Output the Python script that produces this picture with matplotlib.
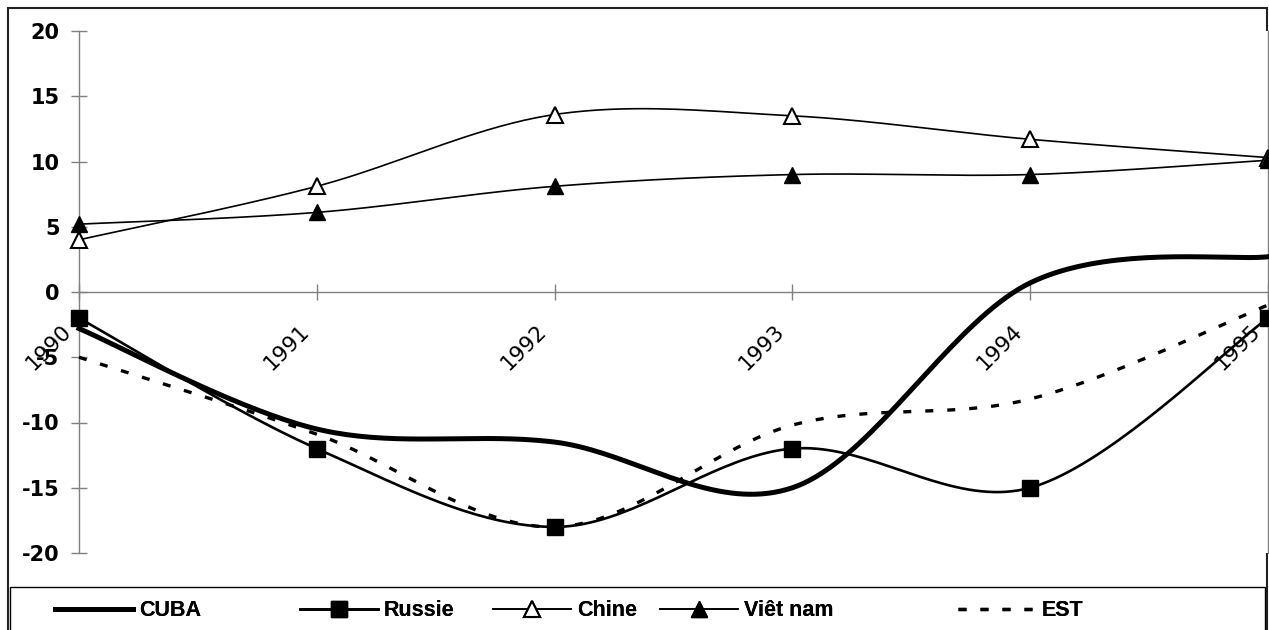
import numpy as np
import matplotlib
matplotlib.use("Agg")
import matplotlib.pyplot as plt
from matplotlib.lines import Line2D
from matplotlib.patches import Rectangle
from matplotlib.transforms import ScaledTranslation

# ---- data ----
years = ["1990", "1991", "1992", "1993", "1994", "1995"]
cuba = [-2.8, -10.5, -11.5, -15.0, 0.7, 2.7]
russie = [-2.0, -12.0, -18.0, -12.0, -15.0, -2.0]
chine = [4.0, 8.1, 13.6, 13.5, 11.7, 10.3]
vietnam = [5.2, 6.1, 8.1, 9.0, 9.0, 10.1]
est = [-5.0, -10.9, -18.0, -10.2, -8.2, -1.0]
yticks = [-20, -15, -10, -5, 0, 5, 10, 15, 20]
series_names = ["CUBA", "Russie", "Chine", "Viêt nam", "EST"]

plt.rcParams['font.family'] = 'DejaVu Sans'

leg_size = 15.5
leg_prop = dict(family='Liberation Sans', size=leg_size, weight='bold')
leg_em = leg_size * 100 / 72

W, H = 1269, 630
fig = plt.figure(figsize=(W / 100, H / 100), dpi=100)
ax = fig.add_axes([79 / W, 77 / H, 1189 / W, 522 / H])
ax.set_xlim(0, 5)
ax.set_ylim(-20, 20)


def smooth(vals, n=40):
    """Excel-like smoothed line (Catmull-Rom Bezier) through the points."""
    y = np.asarray(vals, float)
    x = np.arange(len(y), dtype=float)
    xs, ys = [], []
    t = np.linspace(0, 1, n)
    for i in range(len(y) - 1):
        i0 = max(i - 1, 0)
        i3 = min(i + 2, len(y) - 1)
        p0 = np.array([x[i0], y[i0]])
        p1 = np.array([x[i], y[i]])
        p2 = np.array([x[i + 1], y[i + 1]])
        p3 = np.array([x[i3], y[i3]])
        c1 = p1 + (p2 - p0) / 6
        c2 = p2 - (p3 - p1) / 6
        pts = ((1 - t) ** 3)[:, None] * p1 + (3 * (1 - t) ** 2 * t)[:, None] * c1 \
            + (3 * (1 - t) * t ** 2)[:, None] * c2 + (t ** 3)[:, None] * p2
        xs.extend(pts[:, 0])
        ys.extend(pts[:, 1])
    return np.array(xs), np.array(ys)


xi = np.arange(len(years))

styles = [
    (cuba, dict(lw=3.6), None),
    (russie, dict(lw=1.9), dict(marker='s', ms=11, mfc='black', mec='black')),
    (chine, dict(lw=1.2), dict(marker='^', ms=11, mfc='white', mec='black', mew=1.5)),
    (vietnam, dict(lw=1.2), dict(marker='^', ms=12, mfc='black', mec='black')),
    (est, dict(lw=2.4, linestyle=(0, (2.4, 4.2)), dash_capstyle='butt'), None),
]

handles = []
for vals, lkw, mkw in styles:
    sx, sy = smooth(vals)
    ax.plot(sx, sy, color='black', clip_on=False, zorder=3, **lkw)
    if mkw:
        ax.plot(xi, vals, linestyle='none', clip_on=False, zorder=4, **mkw)
    h = Line2D([], [], color='black', **lkw, **(mkw or {}))
    handles.append(h)

# axes styling
grey = '#808080'
ax.spines['top'].set_visible(False)
ax.spines['bottom'].set_position(('data', 0))
for s in ['left', 'bottom', 'right']:
    ax.spines[s].set_color(grey)
    ax.spines[s].set_linewidth(1.0)
    ax.spines[s].set_zorder(1)

ax.set_yticks(yticks)
ax.set_yticklabels([str(v) for v in yticks], fontsize=15, fontweight='bold',
                   family='DejaVu Sans')
ax.tick_params(axis='y', direction='inout', length=12, width=1, color=grey, pad=8)
ax.tick_params(axis='y', which='both', right=False)

ax.set_xticks(xi)
ax.set_xticklabels(years, fontsize=15.5, family='DejaVu Sans')
ax.tick_params(axis='x', direction='inout', length=12, width=1, color=grey, pad=20)
off = ScaledTranslation(-11 / 100, 0, fig.dpi_scale_trans)
for lab in ax.get_xticklabels():
    lab.set_rotation(45)
    lab.set_rotation_mode('anchor')
    lab.set_ha('right')
    lab.set_va('center')
    lab.set_transform(lab.get_transform() + off)

# outer chart border
fig.add_artist(Rectangle((8 / W, -10 / H), (1267 - 8) / W, (622 + 10) / H, fill=False,
                         transform=fig.transFigure, lw=1.5, ec='#222222', zorder=0))
# legend box
fig.add_artist(Rectangle((10 / W, -10 / H), (1265 - 10) / W, (630 - 587 + 10) / H, fill=False,
                         transform=fig.transFigure, lw=1.0, ec='black', zorder=0))

leg_x = [55, 300, 493, 660, 958]
leg_y = 611
for h, name, lx in zip(handles, series_names, leg_x):
    lg = fig.legend([h], [name], loc='center left',
                    bbox_to_anchor=(lx / W, 1 - leg_y / H),
                    bbox_transform=fig.transFigure, frameon=False,
                    handlelength=78 / leg_em, handletextpad=6 / leg_em, borderpad=0,
                    borderaxespad=0, numpoints=1, prop=leg_prop)
    fig.add_artist(lg)

fig.savefig('out.png', dpi=100)
